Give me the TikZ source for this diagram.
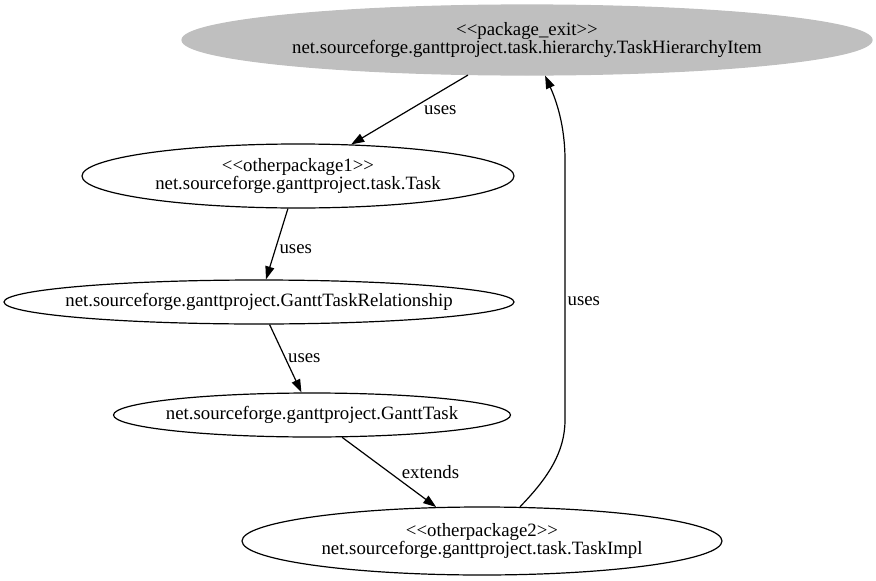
\documentclass[tikz,border=0pt]{standalone}
\usepackage{fontspec}
\newfontfamily\gvfont{Liberation Serif}
\usetikzlibrary{shapes.geometric,arrows.meta}
% zero width lines, so that the ellipse keeps its given size
\newcommand{\zl}[1]{\makebox[0pt]{#1}}

\begin{document}
\begin{tikzpicture}
  [x=1pt,y=-1pt,line width=1.2pt,>={Triangle[length=13pt,width=9pt]},
   every node/.style={font=\gvfont\fontsize{18.8}{18}\selectfont},
   cls/.style={ellipse,draw,inner sep=0pt,align=center},
   lbl/.style={right,inner sep=2pt}]
  \useasboundingbox (0,0) rectangle (876,581);
  \node[cls,fill=black!25,draw=black!25,minimum width=690,minimum height=70] (pexit) at (527,40)
    {\zl{<{}<package\_exit>{}>}\\\zl{net.sourceforge.ganttproject.task.hierarchy.TaskHierarchyItem}};
  \node[cls,minimum width=432,minimum height=64] (task) at (298,176)
    {\zl{<{}<otherpackage1>{}>}\\\zl{net.sourceforge.ganttproject.task.Task}};
  \node[cls,minimum width=510,minimum height=44] (rel) at (259,302)
    {\zl{net.sourceforge.ganttproject.GanttTaskRelationship}};
  \node[cls,minimum width=397,minimum height=44] (gtask) at (312,415)
    {\zl{net.sourceforge.ganttproject.GanttTask}};
  \node[cls,minimum width=480,minimum height=68] (impl) at (482,541)
    {\zl{<{}<otherpackage2>{}>}\\\zl{net.sourceforge.ganttproject.task.TaskImpl}};

  \draw[->] (pexit) -- (task) node[lbl,midway,xshift=12pt] {uses};
  \draw[->] (task) -- (rel) node[lbl,midway,yshift=-5pt] {uses};
  \draw[->] (rel) -- (gtask) node[lbl,midway] {uses};
  \draw[->] (gtask) -- (impl) node[lbl,midway,xshift=10pt] {extends};
  \draw[->] (impl.42) .. controls (548,478) and (565,452) .. (565,420)
    -- (565,160) node[lbl,midway,yshift=-11pt] {uses}
    .. controls (565,125) and (556,100) .. (pexit.-63);
\end{tikzpicture}
\end{document}
